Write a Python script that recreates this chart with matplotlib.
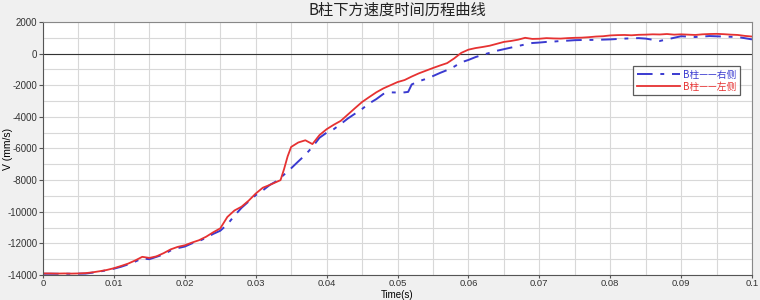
import matplotlib
matplotlib.use('Agg')
from matplotlib import pyplot as plt
from matplotlib.ticker import MultipleLocator
import numpy as np

plt.rcParams['font.family'] = ['Noto Sans CJK SC', 'DejaVu Sans']

# time (s) and velocity (mm/s)
t_left = [0.000, 0.001, 0.002, 0.003, 0.004, 0.005, 0.006, 0.007, 0.008, 0.009,
          0.010, 0.011, 0.012, 0.013, 0.014, 0.015, 0.016, 0.017, 0.018, 0.019,
          0.020, 0.021, 0.022, 0.023, 0.024, 0.025, 0.026, 0.027, 0.028, 0.029,
          0.030, 0.031, 0.032, 0.033, 0.0335, 0.034, 0.0345, 0.035, 0.036, 0.037,
          0.038, 0.039, 0.040, 0.041, 0.042, 0.043, 0.044, 0.045, 0.046, 0.047,
          0.048, 0.049, 0.050, 0.051, 0.052, 0.053, 0.054, 0.055, 0.056, 0.057,
          0.058, 0.059, 0.060, 0.061, 0.062, 0.063, 0.064, 0.065, 0.066, 0.067,
          0.068, 0.069, 0.070, 0.071, 0.072, 0.073, 0.074, 0.075, 0.076, 0.077,
          0.078, 0.079, 0.080, 0.081, 0.082, 0.083, 0.084, 0.085, 0.086, 0.087,
          0.088, 0.089, 0.090, 0.091, 0.092, 0.093, 0.094, 0.095, 0.096, 0.097,
          0.098, 0.099, 0.100]
v_left = [-13900, -13900, -13910, -13900, -13910, -13900, -13880, -13830, -13760, -13680,
          -13570, -13430, -13280, -13080, -12850, -12920, -12820, -12620, -12380, -12220,
          -12120, -11950, -11800, -11580, -11300, -11050, -10330, -9920, -9680, -9300,
          -8850, -8480, -8300, -8100, -8000, -7300, -6500, -5900, -5620, -5480,
          -5720, -5150, -4780, -4500, -4250, -3850, -3450, -3060, -2750, -2450,
          -2200, -2000, -1800, -1670, -1450, -1250, -1080, -910, -750, -600,
          -300, 50, 250, 350, 420, 500, 620, 740, 800, 880,
          1000, 930, 940, 980, 960, 950, 980, 1000, 1010, 1040,
          1080, 1100, 1150, 1170, 1180, 1160, 1190, 1200, 1220, 1210,
          1240, 1200, 1220, 1200, 1180, 1220, 1240, 1250, 1230, 1200,
          1180, 1120, 1080]

t_right = [0.000, 0.002, 0.004, 0.006, 0.007, 0.008, 0.009, 0.010, 0.011, 0.012,
           0.013, 0.014, 0.015, 0.016, 0.017, 0.018, 0.019, 0.020, 0.021, 0.022,
           0.023, 0.024, 0.025, 0.026, 0.027, 0.028, 0.029, 0.030, 0.031, 0.032,
           0.033, 0.034, 0.035, 0.036, 0.037, 0.038, 0.039, 0.040, 0.041, 0.042,
           0.043, 0.044, 0.045, 0.046, 0.047, 0.048, 0.049, 0.050, 0.051, 0.0515,
           0.052, 0.053, 0.054, 0.055, 0.056, 0.057, 0.058, 0.059, 0.060, 0.061,
           0.062, 0.063, 0.064, 0.065, 0.066, 0.067, 0.068, 0.069, 0.070, 0.071,
           0.072, 0.073, 0.074, 0.075, 0.076, 0.078, 0.080, 0.082, 0.084, 0.085,
           0.087, 0.088, 0.090, 0.092, 0.094, 0.096, 0.098, 0.100]
v_right = [-13920, -13920, -13920, -13910, -13850, -13780, -13700, -13600, -13480, -13330,
           -13150, -12950, -13000, -12850, -12700, -12450, -12300, -12200, -12000, -11850,
           -11650, -11400, -11200, -10800, -10250, -9750, -9350, -8950, -8650, -8300,
           -8050, -7650, -7250, -6820, -6400, -5900, -5320, -5000, -4780, -4450,
           -4100, -3800, -3500, -3150, -2880, -2550, -2450, -2460, -2450, -2420,
           -1950, -1750, -1600, -1420, -1220, -1040, -820, -550, -400, -220,
           -80, 50, 180, 280, 380, 480, 580, 670, 700, 740,
           760, 800, 820, 850, 860, 870, 900, 950, 980, 950,
           800, 900, 1100, 1050, 1110, 1080, 1050, 900]

x_ticks = [0, 0.01, 0.02, 0.03, 0.04, 0.05, 0.06, 0.07, 0.08, 0.09, 0.1]
x_labels = ['0', '0.01', '0.02', '0.03', '0.04', '0.05', '0.06', '0.07', '0.08', '0.09', '0.1']
y_ticks = [-14000, -12000, -10000, -8000, -6000, -4000, -2000, 0, 2000]

fig = plt.figure(figsize=(7.6, 3.0), dpi=100, facecolor='#f0f0f0')
ax = fig.add_axes([0.0566, 0.0833, 0.9329, 0.8434])
ax.set_facecolor('white')

ax.set_xlim(0, 0.1)
ax.set_ylim(-14000, 2000)
ax.set_xticks(x_ticks)
ax.set_xticklabels(x_labels, family='Liberation Sans', fontsize=6.8, color='#333333')
ax.set_yticks(y_ticks)
ax.set_yticklabels([str(v) for v in y_ticks], family='Liberation Sans', fontsize=7, color='#333333')
ax.xaxis.set_minor_locator(MultipleLocator(0.005))
ax.yaxis.set_minor_locator(MultipleLocator(1000))
ax.grid(which='both', color='#d8d8d8', linewidth=0.8)
ax.tick_params(which='major', length=3, width=0.8, color='#555555', pad=1)
ax.tick_params(axis='x', which='major', length=2.5, pad=0.5)
ax.tick_params(which='minor', length=0)
ax.set_axisbelow(True)
ax.axhline(0, color='#333333', linewidth=0.8, zorder=1.5)

for s in ['left', 'bottom']:
    ax.spines[s].set_color('#555555')
for s in ['top', 'right']:
    ax.spines[s].set_color('#888888')

l1, = ax.plot(t_right, v_right, color='#3a3ad0', linewidth=1.4,
              linestyle=(0, (8, 4, 2, 4)), label='B柱——右侧')
l2, = ax.plot(t_left, v_left, color='#e63232', linewidth=1.3, label='B柱——左侧')

leg = ax.legend(handles=[l1, l2], loc='upper right', bbox_to_anchor=(0.983, 0.825),
                fontsize=7, frameon=True, fancybox=False, handlelength=4.5,
                handletextpad=0.3, borderpad=0.35, labelspacing=0.2, borderaxespad=0)
leg.get_frame().set_edgecolor('#333333')
leg.get_frame().set_linewidth(0.9)
leg.get_texts()[0].set_color('#3a3ad0')
leg.get_texts()[1].set_color('#e63232')

ax.set_title('B柱下方速度时间历程曲线', fontsize=11, pad=5, color='#222222')
ax.set_ylabel('V (mm/s)', family='Liberation Sans', fontsize=7.5)
ax.yaxis.set_label_coords(-0.043, 0.5)
ax.set_xlabel('Time(s)', family='Liberation Sans', fontsize=7)
ax.xaxis.set_label_coords(0.5, -0.058)

fig.savefig('out.png', dpi=100, facecolor=fig.get_facecolor())
